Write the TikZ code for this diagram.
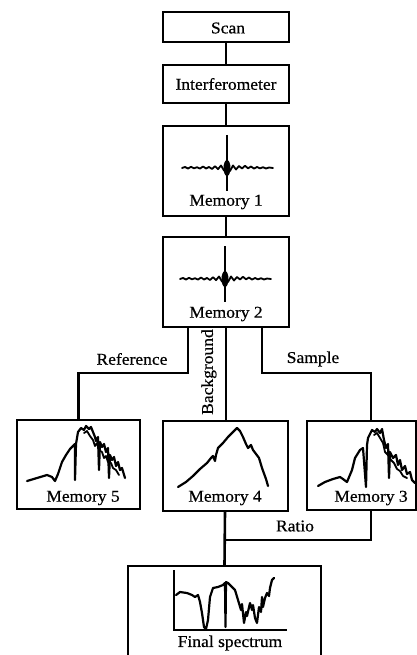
\documentclass[tikz,border=0pt]{standalone}
\usepackage{fontspec}
\setmainfont{Liberation Serif}[FakeStretch=1.06,FakeBold=0.6]
\begin{document}
\begin{tikzpicture}[x=1pt,y=-1pt,
  box/.style={draw,line width=2pt,inner sep=0pt},
  conn/.style={line width=2.6pt},
  lbl/.style={inner sep=0pt,font=\fontsize{16.5}{18}\selectfont},
  wave/.style={line width=1.8pt,line join=round,line cap=round},
  spec/.style={line width=2.2pt,line join=round,line cap=round},
  dense/.style={line width=1.8pt,line join=round,line cap=round}]
\useasboundingbox (0,0) rectangle (417,655);
\clip (0,0) rectangle (417,655);

% boxes
\node[box,minimum width=126pt,minimum height=30pt] (scan) at (226,27) {};
\node[box,minimum width=126pt,minimum height=38pt] (interf) at (226,84) {};
\node[box,minimum width=126pt,minimum height=90pt] (mem1) at (226,171) {};
\node[box,minimum width=126pt,minimum height=90pt] (mem2) at (226,282) {};
\node[box,minimum width=123pt,minimum height=89pt] (mem5) at (78.5,464.5) {};
\node[box,minimum width=125pt,minimum height=90pt] (mem4) at (225,466) {};
\node[box,minimum width=109pt,minimum height=89pt] (mem3) at (361.5,465.5) {};
\node[box,minimum width=193pt,minimum height=99pt] (final) at (224.5,615.5) {};

% labels
\node[lbl] (tscan) at (228,28) {Scan};
\node[lbl] (tinterf) at (226,84) {Interferometer};
\node[lbl] (tm1) at (226,202) {Memory 1};
\node[lbl] (tm2) at (226,314) {Memory 2};
\node[lbl] (tm5) at (83,498) {Memory 5};
\node[lbl] (tm4) at (225,498) {Memory 4};
\node[lbl] (tm3) at (371,498) {Memory 3};
\node[lbl] (tfinal) at (230,643) {Final spectrum};
\node[lbl] (tref) at (132,359) {Reference};
\node[lbl] (tsample) at (313,359) {Sample};
\node[lbl,rotate=90] (tback) at (209,372) {Background};
\node[lbl] (tratio) at (295,526) {Ratio};

% connectors
\coordinate (refy) at (0,373);
\coordinate (ratioy) at (0,540);
\draw[conn] (scan.south) -- (interf.north);
\draw[conn] (interf.south) -- (mem1.north);
\draw[conn] (mem1.south) -- (mem2.north);
\draw[conn] ([xshift=-38pt]mem2.south) |- (mem5.north |- refy) -- (mem5.north);
\draw[conn] (mem2.south) -- (mem2.south |- mem4.north);
\draw[conn] ([xshift=36pt]mem2.south) |- ([xshift=9.5pt]mem3.north |- refy) -- ([xshift=9.5pt]mem3.north);
\draw[conn] (mem4.south) -- (final.north);
\draw[conn] ([xshift=9.5pt]mem3.south) |- (mem4.south |- ratioy);

% interferograms
\foreach \cx/\cy in {227/168,225/279}{
\begin{scope}[shift={(\cx,\cy)}]
  \draw[wave] (-45,0) -- (-42,-1) -- (-39,0.5) -- (-36,-1.2) -- (-33,0.3) -- (-30,-0.8) -- (-27,0.6) -- (-24,-1.5) -- (-21,0.5) -- (-18,-1) -- (-15,1) -- (-12,-1.8) -- (-9,1.2) -- (-6,-2.5) -- (-3,2.5) -- (0,-3) -- (3,3) -- (6,-2.5) -- (9,1.5) -- (12,-2) -- (15,0.5) -- (18,-2.2) -- (21,0.3) -- (24,-1.5) -- (27,0.6) -- (30,-1) -- (33,0.4) -- (36,-0.8) -- (39,0.5) -- (42,-0.5) -- (46,0);
  \draw[line width=2.6pt] (0,-33) -- (0,23);
  \fill (0,0) ellipse[x radius=3.5pt,y radius=8pt];
\end{scope}}

% Memory 5 spectrum
\draw[spec] (27,481) -- (37,478) -- (47,475) -- (52,477) -- (55,481) -- (58,474) -- (62,462) -- (66,455) -- (70,449) -- (73,446) -- (75,444) -- (75,480) -- (76,444) -- (78,432) -- (81,428) -- (84,430) -- (86,426) -- (89,429) -- (91,427) -- (93,432) -- (95,437) -- (96,441) -- (98,437) -- (99,470) -- (100,442) -- (102,447) -- (104,444) -- (106,452) -- (108,448) -- (109,478) -- (110,455) -- (112,460) -- (114,457) -- (116,466) -- (118,462) -- (120,470) -- (122,468) -- (125,478);
\draw[dense] (84,433) -- (87,431) -- (90,436) -- (93,440) -- (95,446) -- (97,443) -- (99,450) -- (102,452) -- (104,458) -- (106,456) -- (108,462) -- (111,463) -- (113,468) -- (116,470) -- (119,475);

% Memory 4 spectrum
\draw[spec] (178,487) -- (186,482) -- (193,476) -- (200,469) -- (207,463) -- (211,458) -- (213,456) -- (215,461) -- (216,455) -- (218,448) -- (223,443) -- (228,437) -- (233,432) -- (237,428) -- (240,431) -- (243,437) -- (246,444) -- (248,448) -- (251,445) -- (253,450) -- (256,454) -- (259,458) -- (262,468) -- (266,479) -- (268,486);

% Memory 3 spectrum
\draw[spec] (318,486) -- (325,482) -- (333,479) -- (340,477) -- (343,479) -- (347,482) -- (352,470) -- (355,458) -- (360,450) -- (363,448) -- (366,487) -- (367,445) -- (368,438) -- (372,430) -- (375,432) -- (377,429) -- (380,433) -- (382,429) -- (384,440) -- (386,448) -- (388,444) -- (389,478) -- (390,452) -- (393,458) -- (396,455) -- (398,465) -- (400,460) -- (402,470) -- (405,466) -- (407,474) -- (410,472) -- (412,480) -- (415,483);
\draw[dense] (374,435) -- (377,433) -- (380,438) -- (383,443) -- (385,452) -- (388,455) -- (391,460) -- (394,463) -- (397,469) -- (400,471) -- (403,476) -- (407,478);

% Final spectrum
\draw[line width=1.6pt] (174,570) -- (174,630) -- (287,630);
\draw[spec] (176,595) -- (180,592) -- (187,593) -- (192,595) -- (195,597) -- (198,595) -- (200,602) -- (202,613) -- (204,627) -- (206,629) -- (208,620) -- (210,597) -- (213,588) -- (218,587) -- (223,585) -- (225,583) -- (225.5,627) -- (226,582) -- (228,583) -- (232,587) -- (235,590) -- (238,600) -- (241,610) -- (242,604) -- (244,623) -- (246,612) -- (247,616) -- (250,603) -- (252,610) -- (253,605) -- (255,618) -- (257,623) -- (259,607) -- (261,612) -- (262,597) -- (263,607) -- (265,598) -- (267,593) -- (269,596) -- (270,588) -- (272,580) -- (274,578);
\end{tikzpicture}
\end{document}
